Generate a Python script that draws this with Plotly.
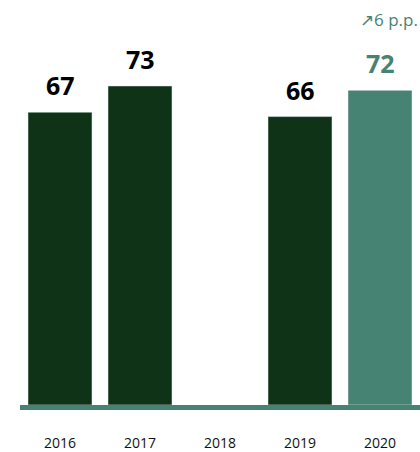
import plotly.graph_objects as go

years = ["2016", "2017", "2018", "2019", "2020"]
values = [67, 73, None, 66, 72]
bar_colors = ["#0e3316", "#0e3316", "#0e3316", "#0e3316", "#478373"]
label_colors = ["#000000", "#000000", "#000000", "#000000", "#478373"]
change_label = "↗6 p.p."

SCALE = 4.37  # px per unit
PLOT_H = 405

fig = go.Figure()
fig.add_trace(go.Bar(x=list(range(len(years))), y=values, marker_color=bar_colors,
                     width=0.8, hoverinfo="skip"))

for i, (v, c) in enumerate(zip(values, label_colors)):
    if v is None:
        continue
    fig.add_annotation(x=i, y=v, text=f"<b>{v}</b>", showarrow=False,
                       yanchor="bottom", yshift=8,
                       font=dict(family="Open Sans", size=25, color=c))

fig.add_annotation(xref="paper", yref="paper", x=1.0, y=(PLOT_H - 19) / PLOT_H,
                   text=change_label, showarrow=False, xanchor="right",
                   yanchor="middle",
                   font=dict(family="Open Sans", size=17, color="#478373"))

fig.update_layout(
    width=420, height=452,
    margin=dict(l=20, r=0, t=0, b=47),
    plot_bgcolor="white", paper_bgcolor="white",
    showlegend=False,
    bargap=0.2,
    xaxis=dict(tickmode="array", tickvals=list(range(len(years))), ticktext=years,
               showline=True, linewidth=5, linecolor="#478373",
               showgrid=False, zeroline=False, ticks="outside", ticklen=21,
               tickcolor="rgba(0,0,0,0)",
               tickfont=dict(family="Open Sans", size=14, color="#111111"),
               range=[-0.5, 4.5], fixedrange=True),
    yaxis=dict(visible=False, range=[0, PLOT_H / SCALE], fixedrange=True),
)

fig.write_html("out.html", config={"displayModeBar": False},
               post_script="document.body.style.margin='0';document.body.style.overflow='hidden';")
